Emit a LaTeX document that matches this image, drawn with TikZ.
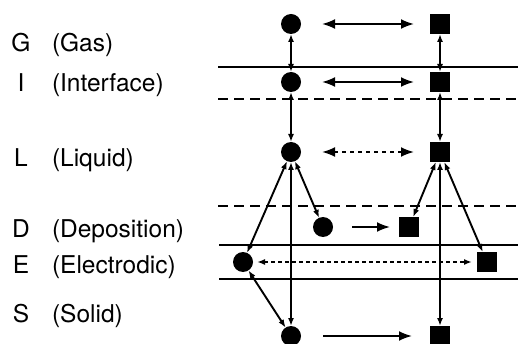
\documentclass[tikz,border=0pt]{standalone}
\usepackage{fontspec}
\setmainfont{TeX Gyre Heros}
\usetikzlibrary{arrows.meta}
\begin{document}
\begin{tikzpicture}[x=1pt,y=-1pt,
  every node/.style={inner sep=0pt, outer sep=0pt},
  ball/.style={circle, fill=black, minimum size=20pt},
  cube/.style={rectangle, fill=black, minimum size=20pt},
  layer/.style={line width=1.6pt},
  layerdash/.style={line width=1.6pt, dash pattern=on 10pt off 6pt},
  smalltip/.tip={Latex[length=8pt,width=6pt]},
  bigtip/.tip={Latex[length=13pt,width=10pt]},
  link/.style={line width=1.9pt, smalltip-smalltip},
  flow/.style={line width=2pt, bigtip-bigtip},
  oneway/.style={line width=2pt, -bigtip},
  dotflow/.style={line width=2pt, dash pattern=on 4pt off 4pt, bigtip-bigtip},
  edotflow/.style={line width=2pt, dash pattern=on 4pt off 3pt, smalltip-smalltip},
  letter/.style={anchor=base, font=\fontsize{24.5}{28}\selectfont},
  phase/.style={anchor=base west, font=\fontsize{24.5}{28}\selectfont}
]
\useasboundingbox (0,0) rectangle (518,344);

% labels
\node[letter] (lG) at (21,51.5) {G};
\node[phase]  (pG) at (52,51.5) {(Gas)};
\node[letter] (lI) at (21,92) {I};
\node[phase]  (pI) at (52,92) {(Interface)};
\node[letter] (lL) at (21,166.5) {L};
\node[phase]  (pL) at (52,166.5) {(Liquid)};
\node[letter] (lD) at (21,237) {D};
\node[phase]  (pD) at (52,237) {(Deposition)};
\node[letter] (lE) at (21,273.5) {E};
\node[phase]  (pE) at (52,273.5) {(Electrodic)};
\node[letter] (lS) at (21,322) {S};
\node[phase]  (pS) at (52,322) {(Solid)};

% layer boundaries
\draw[layer] (218,67) -- (518,67);
\draw[layerdash] (218,99) -- (518,99);
\draw[layerdash] (218,206) -- (518,206);
\draw[layer] (219,245) -- (518,245);
\draw[layer] (219,279) -- (518,279);

% species
\node[ball] (Gc) at (291,24) {};
\node[cube] (Gs) at (440,24) {};
\node[ball] (Ic) at (291,82) {};
\node[cube] (Is) at (440,82) {};
\node[ball] (Lc) at (291,152) {};
\node[cube] (Ls) at (440,152) {};
\node[ball] (Dc) at (323,227) {};
\node[cube] (Ds) at (409,227) {};
\node[ball] (Ec) at (243,262) {};
\node[cube] (Es) at (487,262) {};
\node[ball] (Sc) at (291,336) {};
\node[cube] (Ss) at (440,336) {};

% vertical / diagonal transport
\draw[link] (Gc) -- (Ic);
\draw[link] (Ic) -- (Lc);
\draw[link] (Lc) -- (Sc);
\draw[link] (Lc) -- (Ec);
\draw[link] (Lc) -- (Dc);
\draw[link] (Ec) -- (Sc);
\draw[link] (Gs) -- (Is);
\draw[link] (Is) -- (Ls);
\draw[link] (Ls) -- (Ss);
\draw[link] (Ls) -- (Ds);
\draw[link] (Ls) -- (Es);

% horizontal conversions
\draw[flow, shorten <=21pt, shorten >=16pt] (Gc) -- (Gs);
\draw[flow, shorten <=21pt, shorten >=16pt] (Ic) -- (Is);
\draw[dotflow, shorten <=21pt, shorten >=16pt] (Lc) -- (Ls);
\draw[oneway, shorten <=19pt, shorten >=9pt] (Dc) -- (Ds);
\draw[edotflow, shorten <=4pt, shorten >=5pt] (Ec) -- (Es);
\draw[oneway, shorten <=22pt, shorten >=18pt] (Sc) -- (Ss);
\end{tikzpicture}
\end{document}
